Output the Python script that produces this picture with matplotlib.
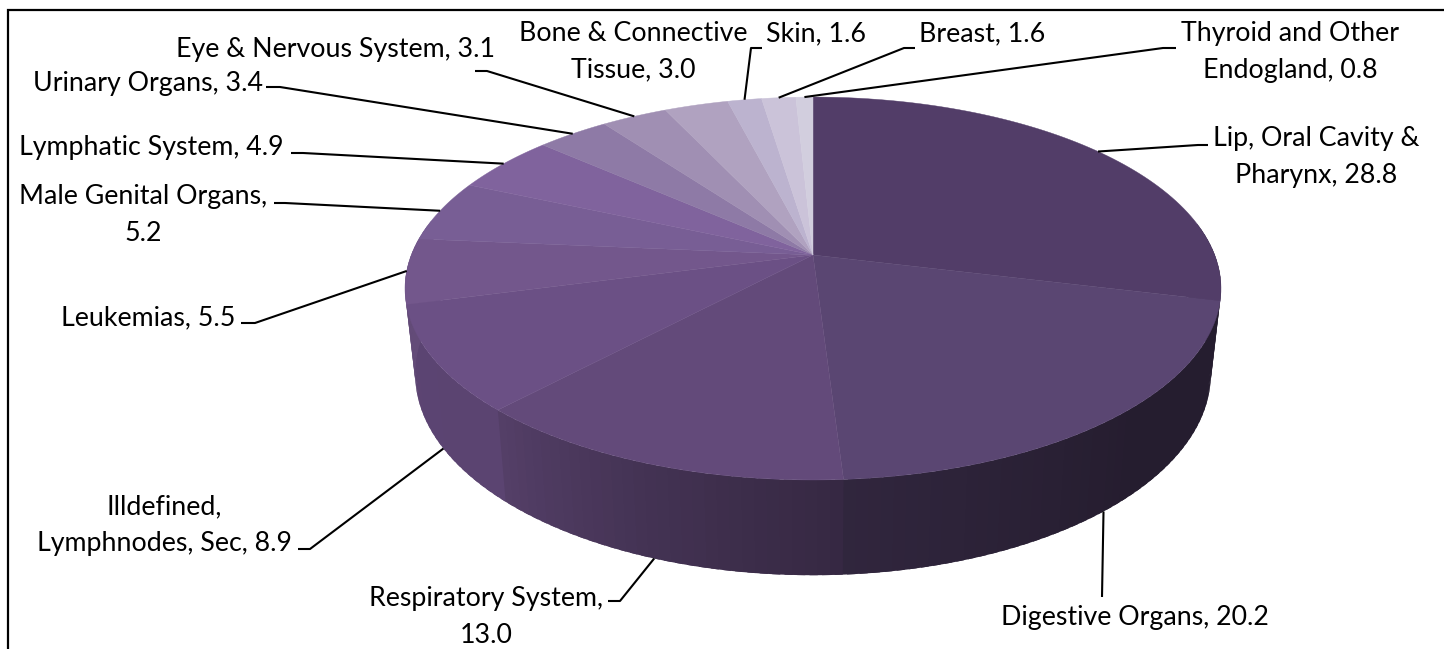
import numpy as np
import matplotlib
matplotlib.use("Agg")
import matplotlib.pyplot as plt
from matplotlib.collections import PolyCollection
from matplotlib.colors import to_rgb

categories = ["Lip, Oral Cavity &\nPharynx", "Digestive Organs", "Respiratory System",
              "Illdefined,\nLymphnodes, Sec", "Leukemias", "Male Genital Organs",
              "Lymphatic System", "Urinary Organs", "Eye & Nervous System",
              "Bone & Connective\nTissue", "Skin", "Breast", "Thyroid and Other\nEndogland"]
values = [28.8, 20.2, 13.0, 8.9, 5.5, 5.2, 4.9, 3.4, 3.1, 3.0, 1.6, 1.6, 0.8]
separators = [", ", ", ", ",\n", ", ", ", ", ",\n", ", ", ", ", ", ", ", ", ", ", ", ", ", "]
colors = ["#523d68", "#5a4672", "#634a7a", "#6b5085", "#73578c", "#785e95", "#80639d",
          "#8e7aa6", "#a08fb3", "#b0a2c0", "#bcb3cf", "#cbc3d9", "#d2cede"]
label_xy = [(1316, 157), (1135, 617), (486, 617), (164, 525), (148, 318), (143, 215), (151, 147),
            (148, 84), (335, 50), (633, 52), (816, 34), (982, 34), (1290, 52)]
elbows = [[(1208, 145), (1198, 145)], [(1102, 597)], [(608, 601), (620, 601)],
          [(298, 549), (310, 549)], [(241, 323), (255, 323)], [(274, 203), (285, 203)],
          [(291, 153), (303, 153)], [(266, 87), (280, 87)], [(475, 71), (487, 71)],
          None, [(762, 48), (751, 48)], [(915, 48), (904, 48)], [(1176, 48), (1163, 48)]]
on_base = [False, True, True, True] + [False] * 9

CX, CY = 813.0, 255.0
A, C, D = 185.6, 0.175, 401.7
SHRINK_X, SHRINK_Y, DROP = 0.975, 1.05, 84.0


def top_ring(theta):
    s, c = np.sin(theta), np.cos(theta)
    den = 1 + C * c
    return CX + D * s / den, CY - A * c / den


def base_ring(theta):
    x, y = top_ring(theta)
    return CX + SHRINK_X * (x - CX), CY + DROP + SHRINK_Y * (y - CY)


def wall_factor(deg):
    return np.interp(deg, [90, 135, 176, 200, 223, 270], [0.42, 0.41, 0.54, 0.68, 0.85, 0.86])


fig = plt.figure(figsize=(14.44, 6.49), dpi=100, facecolor="white")
ax = fig.add_axes([0, 0, 1, 1])
ax.set_xlim(0, 1444)
ax.set_ylim(649, 0)
ax.axis("off")
plt.rcParams["font.family"] = "Lato"

edges = np.concatenate([[0], np.cumsum(values)]) / sum(values) * 2 * np.pi

# Side wall: each band overlaps the next one so no seams show
quads, qcols = [], []
for i in range(len(values)):
    lo_c, hi_c = max(np.degrees(edges[i]), 80), min(np.degrees(edges[i + 1]), 280)
    if lo_c >= hi_c:
        continue
    steps = max(2, int((hi_c - lo_c) / 1.5))
    grid = np.linspace(lo_c, hi_c, steps + 1)
    base = np.array(to_rgb(colors[i]))
    for a, b in zip(grid[:-1], grid[1:]):
        t = np.radians(np.linspace(a, b + 1.0, 4))
        xt, yt = top_ring(t)
        xb, yb = base_ring(t)
        poly = list(zip(xt, yt)) + list(zip(xb[::-1], yb[::-1]))
        quads.append(poly)
        qcols.append(np.clip(base * wall_factor((a + b) / 2), 0, 1))
ax.add_collection(PolyCollection(quads, facecolors=qcols, edgecolors="none", zorder=2))

# Top face
for i in range(len(values)):
    t = np.linspace(edges[i], edges[i + 1], 80)
    x, y = top_ring(t)
    px = np.concatenate([[CX], x])
    py = np.concatenate([[CY], y])
    ax.fill(px, py, facecolor=colors[i], edgecolor=colors[i], linewidth=0.3, zorder=3)

# Labels and leader lines
for i, name in enumerate(categories):
    ax.text(label_xy[i][0], label_xy[i][1], f"{name}{separators[i]}{values[i]:.1f}",
            ha="center", va="center", fontsize=19.3, color="black", linespacing=1.58, zorder=6)
    if elbows[i] is None:
        continue
    mid = (edges[i] + edges[i + 1]) / 2
    end = base_ring(mid) if on_base[i] else top_ring(mid)
    pts = elbows[i] + [end]
    ax.plot([p[0] for p in pts], [p[1] for p in pts], color="black", lw=1.5,
            solid_capstyle="butt", zorder=5)

# Chart frame: only the top and left edges fall inside the picture
ax.plot([8, 8, 1444], [649, 10, 10], color="black", lw=1.6, zorder=1, solid_joinstyle="miter")

fig.savefig("out.png", dpi=100)
